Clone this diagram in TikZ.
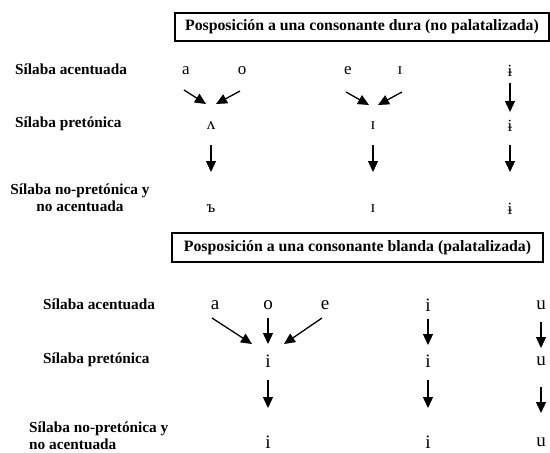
\documentclass[tikz,border=0pt]{standalone}
\usepackage{fontspec}
\setmainfont{Liberation Serif}
\usetikzlibrary{arrows.meta,positioning}

\begin{document}
\begin{tikzpicture}[x=1pt,y=-1pt]
\tikzstyle{every node}+=[inner sep=0pt]
\tikzstyle{lab}=[font=\fontsize{15.3}{17}\selectfont\bfseries]
\tikzstyle{titlebox}=[draw,line width=1.2pt,font=\fontsize{15.8}{17}\selectfont\bfseries]
\tikzstyle{vow}=[font=\fontsize{17}{17}\selectfont]
\tikzstyle{vowb}=[font=\fontsize{19}{19}\selectfont]
\tikzstyle{arr}=[line width=1.3pt,-{Triangle[length=11pt,width=10pt]}]
\useasboundingbox (0,0) rectangle (550,453);
\node [titlebox,minimum width=374pt,minimum height=28pt] (hard) at (362,27) {Posposición a una consonante dura (no palatalizada)};
\node [lab,anchor=west] (acc1) at (15,69) {Sílaba acentuada};
\node [lab,anchor=west] (pre1) at (15,124) {Sílaba pretónica};
\node [lab,align=center] (rest1) at (80,198) {Sílaba no-pretónica y\\no acentuada};
\node [vow] (a1) at (186,71) {a};
\node [vow] (o1) at (242,71) {o};
\node [vow] (e1) at (348,71) {e};
\node [vow] (I1) at (400,71) {ɪ};
\node [vow] (y1) at (510,71) {ɨ};
\node [vow] (A2) at (211,126) {ʌ};
\node [vow] (I2) at (373,126) {ɪ};
\node [vow] (y2) at (510,126) {ɨ};
\node [vow] (A3) at (211,209) {ъ};
\node [vow] (I3) at (373,209) {ɪ};
\node [vow] (y3) at (510,209) {ɨ};
\draw [arr] ([shift={(-2,19)}]a1.center) -- ([shift={(-5,-22)}]A2.center);
\draw [arr] ([shift={(-2,20)}]o1.center) -- ([shift={(5,-22)}]A2.center);
\draw [arr] ([shift={(-2,21)}]e1.center) -- ([shift={(-4,-21)}]I2.center);
\draw [arr] ([shift={(2,21)}]I1.center) -- ([shift={(5,-21)}]I2.center);
\draw [arr] ([yshift=-12pt]y1.center) -- ([yshift=14pt]y2.center);
\draw [arr] ([yshift=-19pt]A2.center) -- ([yshift=37pt]A3.center);
\draw [arr] ([yshift=-19pt]I2.center) -- ([yshift=37pt]I3.center);
\draw [arr] ([yshift=-19pt]y2.center) -- ([yshift=37pt]y3.center);
\node [titlebox,minimum width=371pt,minimum height=29pt] (soft) at (357.5,247.5) {Posposición a una consonante blanda (palatalizada)};
\node [lab,anchor=west] (acc2) at (43,304) {Sílaba acentuada};
\node [lab,anchor=west] (pre2) at (43,360) {Sílaba pretónica};
\node [lab,align=left,anchor=west] (rest2) at (29,436) {Sílaba no-pretónica y\\no acentuada};
\node [vowb] (a4) at (215,305) {a};
\node [vowb] (o4) at (268,305) {o};
\node [vowb] (e4) at (325,305) {e};
\node [vowb] (i4) at (428,305) {i};
\node [vowb] (u4) at (541,305) {u};
\node [vowb] (m5) at (268,361) {i};
\node [vowb] (i5) at (428,361) {i};
\node [vowb] (u5) at (541,361) {u};
\node [vowb] (m6) at (268,442) {i};
\node [vowb] (i6) at (428,442) {i};
\node [vowb] (u6) at (541,442) {u};
\draw [arr] ([shift={(-3,13)}]a4.center) -- ([shift={(-16,-17)}]m5.center);
\draw [arr] ([yshift=-13pt]o4.center) -- ([yshift=17pt]m5.center);
\draw [arr] ([shift={(-3,13)}]e4.center) -- ([shift={(16,-17)}]m5.center);
\draw [arr] ([yshift=-14pt]i4.center) -- ([yshift=16pt]i5.center);
\draw [arr] ([yshift=-17pt]u4.center) -- ([yshift=13pt]u5.center);
\draw [arr] ([yshift=-19pt]m5.center) -- ([yshift=34pt]m6.center);
\draw [arr] ([yshift=-19pt]i5.center) -- ([yshift=34pt]i6.center);
\draw [arr] ([yshift=-26pt]u5.center) -- ([yshift=29pt]u6.center);
\end{tikzpicture}
\end{document}
